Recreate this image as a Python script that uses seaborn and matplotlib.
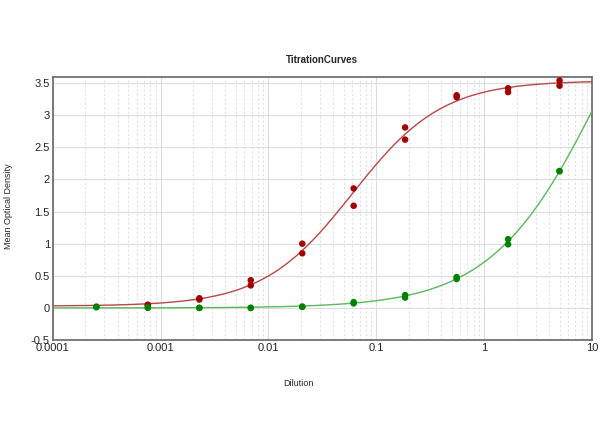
import numpy as np
import pandas as pd
import matplotlib
matplotlib.use("Agg")
import matplotlib.pyplot as plt
import seaborn as sns
from matplotlib.ticker import FixedLocator, LogLocator, NullFormatter

# -------------------- DATA --------------------
red_dilution = [0.000762, 0.000762, 0.00229, 0.00229, 0.00686, 0.00686,
                0.0206, 0.0206, 0.0617, 0.0617, 0.185, 0.185,
                0.556, 0.556, 1.667, 1.667, 5.0, 5.0]
red_od = [0.05, 0.04, 0.15, 0.13, 0.43, 0.35,
          1.00, 0.85, 1.86, 1.59, 2.81, 2.62,
          3.31, 3.28, 3.42, 3.36, 3.54, 3.46]

green_dilution = [0.000254, 0.000254, 0.000762, 0.000762, 0.00229, 0.00229,
                  0.00686, 0.00686, 0.0206, 0.0206, 0.0617, 0.0617,
                  0.185, 0.185, 0.556, 0.556, 1.667, 1.667, 5.0, 5.0]
green_od = [0.01, 0.02, 0.00, 0.01, 0.00, 0.00,
            0.00, 0.00, 0.015, 0.02, 0.09, 0.07,
            0.20, 0.16, 0.48, 0.45, 1.07, 0.99, 2.13, 2.13]

x_ticks = [0.0001, 0.001, 0.01, 0.1, 1, 10]
x_tick_labels = ["0.0001", "0.001", "0.01", "0.1", "1", "10"]
y_ticks = [-0.5, 0, 0.5, 1, 1.5, 2, 2.5, 3, 3.5]
y_tick_labels = ["-0.5", "0", "0.5", "1", "1.5", "2", "2.5", "3", "3.5"]

RED_PT, RED_LINE = "#a00000", "#b5484a"
GREEN_PT, GREEN_LINE = "#008000", "#5cb85c"


# -------------------- 4PL FIT (grid over ec50/hill, lstsq for bottom/top) --------------------
def fit_4pl(x, y):
    x = np.asarray(x, float)
    y = np.asarray(y, float)
    best = None
    for lc in np.linspace(-4, 2, 301):
        for h in np.linspace(0.4, 2.5, 106):
            s = 1.0 / (1.0 + (10 ** lc / x) ** h)
            A = np.column_stack([1 - s, s])
            coef, *_ = np.linalg.lstsq(A, y, rcond=None)
            err = np.sum((A @ coef - y) ** 2)
            if best is None or err < best[0]:
                best = (err, coef[0], coef[1], 10 ** lc, h)
    return best[1:]


def curve_4pl(x, bottom, top, ec50, hill):
    return bottom + (top - bottom) / (1.0 + (ec50 / x) ** hill)


xs = np.logspace(-4, 1, 400)
curves = []
for name, xd, yd in [("red", red_dilution, red_od), ("green", green_dilution, green_od)]:
    p = fit_4pl(xd, yd)
    curves.append(pd.DataFrame({"Dilution": xs, "OD": curve_4pl(xs, *p), "series": name}))
curve_df = pd.concat(curves)

points_df = pd.concat([
    pd.DataFrame({"Dilution": red_dilution, "OD": red_od, "series": "red"}),
    pd.DataFrame({"Dilution": green_dilution, "OD": green_od, "series": "green"}),
])

# -------------------- PLOT --------------------
sns.set_style("white")
plt.rcParams["font.family"] = ["Liberation Sans", "DejaVu Sans"]

fig = plt.figure(figsize=(6, 4.47), dpi=100)
ax = fig.add_axes([0.0878, 0.2394, 0.8989, 0.589])

sns.lineplot(data=curve_df, x="Dilution", y="OD", hue="series",
             palette={"red": RED_LINE, "green": GREEN_LINE},
             linewidth=1.0, legend=False, ax=ax, zorder=3)
sns.scatterplot(data=points_df, x="Dilution", y="OD", hue="series",
                palette={"red": RED_PT, "green": GREEN_PT},
                s=22, edgecolor="none", legend=False, ax=ax, zorder=4)

ax.set_xscale("log")
ax.set_xlim(0.0001, 10)
ax.set_ylim(-0.5, 3.6)
ax.xaxis.set_major_locator(FixedLocator(x_ticks))
ax.set_xticklabels(x_tick_labels)
ax.xaxis.set_minor_locator(LogLocator(base=10, subs=np.arange(2, 10)))
ax.xaxis.set_minor_formatter(NullFormatter())
ax.set_yticks(y_ticks)
ax.set_yticklabels(y_tick_labels)

ax.grid(True, which="major", color="#dcdcdc", linewidth=0.8, linestyle="-")
ax.grid(True, which="minor", axis="x", color="#e0e0e0", linewidth=0.8, linestyle=(0, (2, 2)))
ax.set_axisbelow(True)

ax.tick_params(axis="both", which="both", length=0, labelsize=8, colors="#222222", pad=2)
for sp in ax.spines.values():
    sp.set_color("#666666")
    sp.set_linewidth(1.2)

ax.set_xlabel("Dilution", fontsize=6.5)
ax.xaxis.set_label_coords(0.455, -0.15)
ax.set_ylabel("Mean Optical Density", fontsize=6.5)
ax.yaxis.set_label_coords(-0.074, 0.51)
ax.set_title("TitrationCurves", fontsize=7, fontweight="bold", pad=10)

plt.savefig("out.png", dpi=100)
